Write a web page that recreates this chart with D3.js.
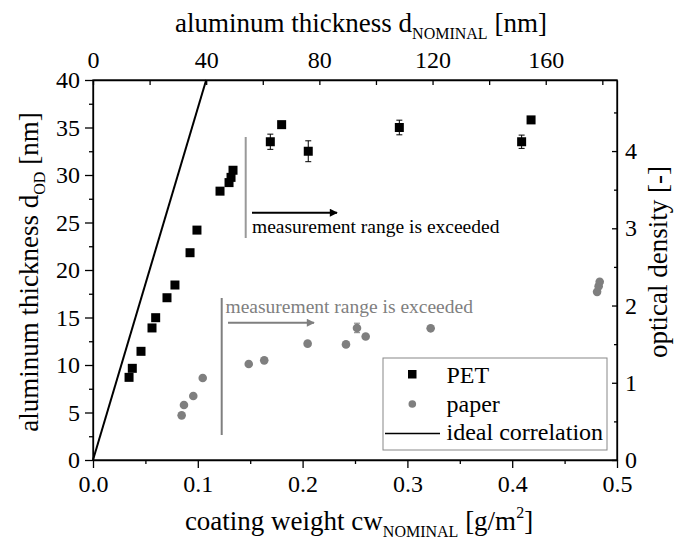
<!DOCTYPE html>
<html>
<head>
<meta charset="utf-8">
<script src="https://d3js.org/d3.v7.min.js"></script>
<style>
  html, body { margin: 0; padding: 0; background: #fff; }
  .axis path, .axis line { stroke: #000; stroke-width: 1.3; }
</style>
</head>
<body>
<svg id="chart" width="689" height="545"></svg>
<script>
"use strict";
// PET: coating weight [g/m2] vs aluminum thickness d_OD [nm]
const petCw  = [0.0344, 0.0375, 0.0458, 0.0563, 0.0598, 0.0706, 0.0782, 0.0926, 0.0992, 0.1212, 0.1298, 0.1317, 0.1336, 0.1692, 0.180, 0.2054, 0.2923, 0.409, 0.418];
const petD   = [8.7, 9.65, 11.44, 13.9, 14.98, 17.08, 18.42, 21.82, 24.2, 28.3, 29.2, 29.75, 30.5, 33.5, 35.3, 32.5, 35.0, 33.5, 35.8];
const petErr = [0, 0.2, 0, 0, 0, 0, 0.25, 0, 0, 0, 0, 0, 0, 0.8, 0, 1.1, 0.77, 0.7, 0];

// paper
const paperCw  = [0.0846, 0.0868, 0.0957, 0.1047, 0.1486, 0.1634, 0.2048, 0.2414, 0.2519, 0.2602, 0.3222, 0.481, 0.4825, 0.4835];
const paperD   = [4.7, 5.79, 6.74, 8.63, 10.1, 10.49, 12.25, 12.17, 13.9, 13.0, 13.86, 17.7, 18.3, 18.77];
const paperErr = [0, 0, 0, 0, 0, 0, 0, 0, 0.5, 0, 0, 0, 0, 0];

// ideal correlation: d_OD = d_NOMINAL, with d_NOMINAL = cw / rho(Al)
const nmPerGsm = 370.37;
const idealCw = [0, 0.108];

const bottomTicks = [0, 0.1, 0.2, 0.3, 0.4, 0.5];
const topTicks = [0, 40, 80, 120, 160];
const leftTicks = [0, 5, 10, 15, 20, 25, 30, 35, 40];
const rightTicks = [0, 1, 2, 3, 4];

const FONT = '"Liberation Serif", "Times New Roman", serif';
const L = 93, R = 617, T = 80, B = 460;
const svg = d3.select("#chart").attr("font-family", FONT);

const x = d3.scaleLinear().domain([0, 0.5]).range([L, R]);
const xTop = d3.scaleLinear().domain([0, 0.5 * nmPerGsm]).range([L, R]);
const y = d3.scaleLinear().domain([0, 40]).range([B, T]);
const yR = d3.scaleLinear().domain([0, 4.92]).range([B, T]);

const grey = "#7f7f7f";
const TICK_FS = 24, TITLE_FS = 27, SUB_FS = 16;

function styleAxis(g) {
  g.attr("font-family", FONT).attr("font-size", TICK_FS);
  g.selectAll("text").attr("fill", "#000");
}
function minor(g, axis) { g.call(axis).call(s => s.selectAll("text").remove()).call(s => s.select(".domain").remove()); }

svg.append("g").attr("class", "axis").attr("transform", `translate(0,${B})`)
  .call(g => minor(g, d3.axisBottom(x).tickValues(d3.range(0.05, 0.5, 0.1)).tickSize(4)));
svg.append("g").attr("class", "axis").attr("transform", `translate(0,${B})`)
  .call(d3.axisBottom(x).tickValues(bottomTicks).tickFormat(d3.format(".1f")).tickSize(8).tickPadding(7).tickSizeOuter(0))
  .call(styleAxis);

svg.append("g").attr("class", "axis").attr("transform", `translate(0,${T})`)
  .call(g => minor(g, d3.axisTop(xTop).tickValues(d3.range(20, 185, 40)).tickSize(-5)));
svg.append("g").attr("class", "axis").attr("transform", `translate(0,${T})`)
  .call(d3.axisTop(xTop).tickValues(topTicks).tickSize(-5).tickPadding(12).tickSizeOuter(0))
  .call(styleAxis);

svg.append("g").attr("class", "axis").attr("transform", `translate(${L},0)`)
  .call(g => minor(g, d3.axisLeft(y).tickValues(d3.range(2.5, 40, 5)).tickSize(4)));
svg.append("g").attr("class", "axis").attr("transform", `translate(${L},0)`)
  .call(d3.axisLeft(y).tickValues(leftTicks).tickSize(8).tickPadding(5).tickSizeOuter(0))
  .call(styleAxis);

svg.append("g").attr("class", "axis").attr("transform", `translate(${R},0)`)
  .call(g => minor(g, d3.axisRight(yR).tickValues(d3.range(0.5, 4.9, 1)).tickSize(-3)));
svg.append("g").attr("class", "axis").attr("transform", `translate(${R},0)`)
  .call(d3.axisRight(yR).tickValues(rightTicks).tickFormat(d3.format("d")).tickSize(-5).tickPadding(8).tickSizeOuter(0))
  .call(styleAxis);

// axis titles
function title(main, sub, rest) {
  const t = svg.append("text").attr("font-size", TITLE_FS).attr("fill", "#000").attr("text-anchor", "middle");
  t.append("tspan").text(main);
  t.append("tspan").attr("font-size", SUB_FS).attr("dy", 7).text(sub);
  t.append("tspan").attr("dy", -7).text(rest);
  return t;
}
title("aluminum thickness d", "NOMINAL", " [nm]").attr("x", 361).attr("y", 32);
const bt = svg.append("text").attr("font-size", TITLE_FS).attr("text-anchor", "middle").attr("x", 359).attr("y", 530);
bt.append("tspan").text("coating weight cw");
bt.append("tspan").attr("font-size", SUB_FS).attr("dy", 7).text("NOMINAL");
bt.append("tspan").attr("dy", -7).text(" [g/m");
bt.append("tspan").attr("font-size", SUB_FS).attr("dy", -12).text("2");
bt.append("tspan").attr("dy", 12).text("]");
title("aluminum thickness d", "OD", " [nm]").attr("transform", "translate(38,272) rotate(-90)");
svg.append("text").attr("font-size", TITLE_FS).attr("text-anchor", "middle")
  .attr("transform", "translate(667,262) rotate(-90)").text("optical density [-]");

// ideal correlation line
svg.append("line")
  .attr("x1", x(idealCw[0])).attr("y1", y(idealCw[0] * nmPerGsm))
  .attr("x2", x(idealCw[1])).attr("y2", y(idealCw[1] * nmPerGsm))
  .attr("stroke", "#000").attr("stroke-width", 2);

// annotations
const defs = svg.append("defs");
[["ah-black", "#000"], ["ah-grey", grey]].forEach(([id, c]) => {
  defs.append("marker").attr("id", id).attr("viewBox", "0 0 10 10").attr("refX", 9).attr("refY", 5)
    .attr("markerWidth", 5).attr("markerHeight", 4).attr("orient", "auto")
    .append("path").attr("d", "M0,0L10,5L0,10Z").attr("fill", c);
});
svg.append("line").attr("x1", 245.7).attr("x2", 245.7).attr("y1", 137).attr("y2", 238)
  .attr("stroke", "#999").attr("stroke-width", 2);
svg.append("line").attr("x1", 252).attr("x2", 337).attr("y1", 212.7).attr("y2", 212.7)
  .attr("stroke", "#000").attr("stroke-width", 2).attr("marker-end", "url(#ah-black)");
svg.append("text").attr("x", 252).attr("y", 233).attr("font-size", 19.5).attr("fill", "#000")
  .text("measurement range is exceeded");

svg.append("line").attr("x1", 221.7).attr("x2", 221.7).attr("y1", 298).attr("y2", 435)
  .attr("stroke", grey).attr("stroke-width", 2);
svg.append("line").attr("x1", 228).attr("x2", 314).attr("y1", 322.7).attr("y2", 322.7)
  .attr("stroke", grey).attr("stroke-width", 2).attr("marker-end", "url(#ah-grey)");
svg.append("text").attr("x", 225.5).attr("y", 313).attr("font-size", 19.5).attr("fill", grey)
  .text("measurement range is exceeded");

// error bars
function errBars(cw, d, err, color) {
  const idx = d3.range(cw.length).filter(i => err[i] > 0);
  const g = svg.append("g").attr("stroke", color).attr("stroke-width", 1);
  idx.forEach(i => {
    const cx = x(cw[i]);
    g.append("line").attr("x1", cx).attr("x2", cx).attr("y1", y(d[i] - err[i])).attr("y2", y(d[i] + err[i]));
    [d[i] - err[i], d[i] + err[i]].forEach(v =>
      g.append("line").attr("x1", cx - 3).attr("x2", cx + 3).attr("y1", y(v)).attr("y2", y(v)));
  });
}
errBars(petCw, petD, petErr, "#000");
errBars(paperCw, paperD, paperErr, grey);

// PET squares
svg.append("g").selectAll("rect").data(d3.range(petCw.length)).join("rect")
  .attr("x", i => x(petCw[i]) - 4.5).attr("y", i => y(petD[i]) - 4.5)
  .attr("width", 9).attr("height", 9).attr("fill", "#000");

// paper circles
svg.append("g").selectAll("circle").data(d3.range(paperCw.length)).join("circle")
  .attr("cx", i => x(paperCw[i])).attr("cy", i => y(paperD[i]))
  .attr("r", 4.3).attr("fill", grey);

// frame
svg.append("rect").attr("x", L).attr("y", T).attr("width", R - L).attr("height", B - T)
  .attr("fill", "none").attr("stroke", "#000").attr("stroke-width", 1.3);

// legend
const lg = svg.append("g");
lg.append("rect").attr("x", 383).attr("y", 358).attr("width", 224).attr("height", 92)
  .attr("fill", "#fff").attr("stroke", "#888").attr("stroke-width", 1);
lg.append("rect").attr("x", 408).attr("y", 370).attr("width", 8.5).attr("height", 8.5).attr("fill", "#000");
lg.append("circle").attr("cx", 412.3).attr("cy", 404).attr("r", 3.8).attr("fill", grey);
lg.append("line").attr("x1", 385).attr("x2", 440).attr("y1", 433.5).attr("y2", 433.5).attr("stroke", "#000").attr("stroke-width", 1.5);
[["PET", 382.5], ["paper", 411.5], ["ideal correlation", 440]].forEach(([t, yy]) =>
  lg.append("text").attr("x", 446.5).attr("y", yy).attr("font-size", 24).text(t));
</script>
</body>
</html>
